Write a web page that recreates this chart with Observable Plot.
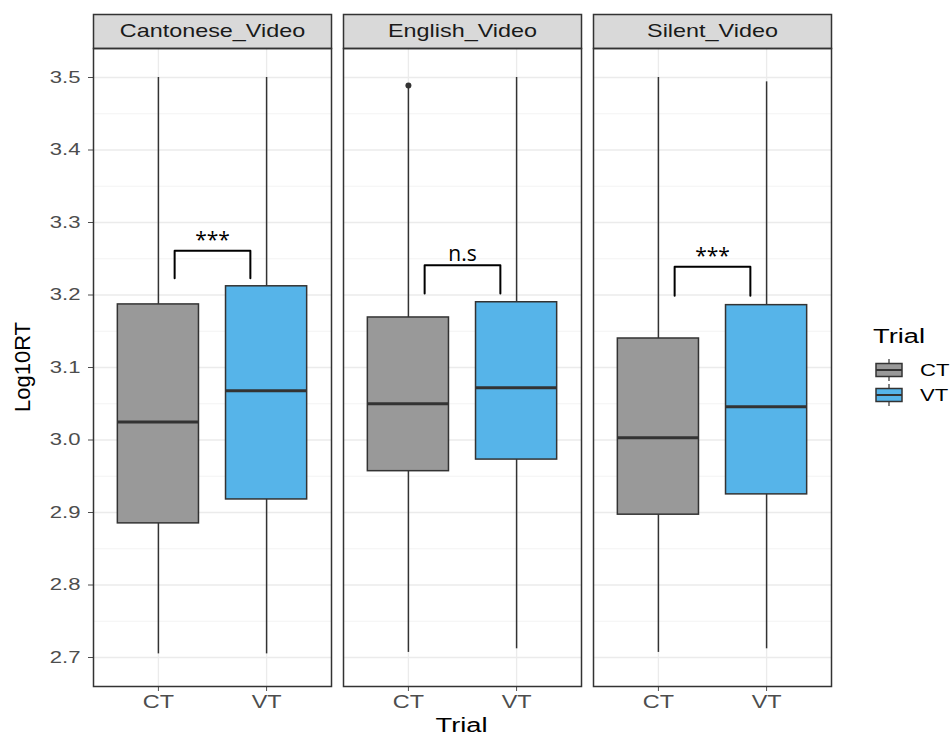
<!DOCTYPE html>
<html><head><meta charset="utf-8">
<script src="https://cdn.jsdelivr.net/npm/d3@7"></script>
<script src="https://cdn.jsdelivr.net/npm/@observablehq/plot@0.6"></script>
<style>body{margin:0;background:#fff;} #chart{width:952px;height:735px;}</style>
</head><body><div id="chart"></div>
<script>
// ---- data ----
const videos = ["Cantonese_Video", "English_Video", "Silent_Video"];
const trials = ["CT", "VT"];
const trialColors = ["#999999", "#56B4E9"];
// rows: video, columns: trial (CT, VT)
const whiskerLow = [[2.705, 2.705], [2.707, 2.712], [2.707, 2.712]];
const q1         = [[2.885, 2.918], [2.957, 2.973], [2.897, 2.925]];
const medians    = [[3.025, 3.068], [3.050, 3.072], [3.003, 3.046]];
const q3         = [[3.187, 3.212], [3.169, 3.190], [3.140, 3.186]];
const whiskerHigh= [[3.500, 3.500], [3.485, 3.500], [3.500, 3.494]];
const outlierVideo = ["English_Video"];
const outlierTrial = ["CT"];
const outlierValue = [3.489];
// significance brackets (ggsignif-style annotations)
const sigLabels = ["***", "n.s", "***"];
const sigY      = [3.261, 3.241, 3.239];
const sigTipY   = [3.223, 3.202, 3.199];
const sigXmin   = [1.15, 1.15, 1.15];
const sigXmax   = [1.85, 1.85, 1.85];
const yTicks = [2.7, 2.8, 2.9, 3.0, 3.1, 3.2, 3.3, 3.4, 3.5];
const yMinor = [2.75, 2.85, 2.95, 3.05, 3.15, 3.25, 3.35, 3.45];

// ---- tables ----
const rows = [];
videos.forEach((v, i) => trials.forEach((t, j) => rows.push({
  video: v, trial: t, pos: j + 1,
  ymin: whiskerLow[i][j], lower: q1[i][j], middle: medians[i][j],
  upper: q3[i][j], ymax: whiskerHigh[i][j]
})));
const outliers = outlierVideo.map((v, i) => ({video: v, pos: trials.indexOf(outlierTrial[i]) + 1, y: outlierValue[i]}));
const brackets = [];
const sigRows = videos.map((v, i) => ({video: v, x: (sigXmin[i] + sigXmax[i]) / 2, y: sigY[i], label: sigLabels[i]}));
videos.forEach((v, i) => {
  brackets.push({video: v, x: sigXmin[i], y: sigTipY[i]});
  brackets.push({video: v, x: sigXmin[i], y: sigY[i]});
  brackets.push({video: v, x: sigXmax[i], y: sigY[i]});
  brackets.push({video: v, x: sigXmax[i], y: sigTipY[i]});
});

// ---- layout ----
const W = 952, H = 735, mL = 92, mR = 121, mT = 48, mB = 49;
const boxHalf = 0.375;
const stripH = 34;
const dark = "#333333";
const textStretch = 1.3;

const chart = Plot.plot({
  width: W, height: H,
  marginLeft: mL, marginRight: mR, marginTop: mT, marginBottom: mB,
  style: {fontFamily: "Liberation Sans, Arial, sans-serif", fontSize: "17px", color: "#4d4d4d", background: "#ffffff"},
  fx: {domain: videos, paddingInner: 0.05, paddingOuter: 0, axis: null, label: null},
  x: {domain: [0.4, 2.6], ticks: [1, 2], tickFormat: d => trials[d - 1], tickSize: 5, tickPadding: 4, label: null},
  y: {domain: [2.66, 3.54], ticks: yTicks, tickFormat: d => d.toFixed(1), tickSize: 5, tickPadding: 8, label: null},
  color: {domain: trials, range: trialColors},
  marks: [
    Plot.ruleY(yMinor, {stroke: "#ebebeb", strokeWidth: 0.6}),
    Plot.ruleY(yTicks, {stroke: "#ebebeb", strokeWidth: 1.3}),
    Plot.ruleX([1, 2], {stroke: "#ebebeb", strokeWidth: 1.3}),
    Plot.frame({fill: "#d9d9d9", stroke: dark, strokeWidth: 1.5, insetTop: -stripH, insetBottom: H - mT - mB}),
    Plot.text(videos, {fx: d => d, text: d => d, frameAnchor: "top", lineAnchor: "middle", dy: -stripH / 2, fill: "#1a1a1a", fontSize: 18}),
    Plot.ruleX(rows, {fx: "video", x: "pos", y1: "ymin", y2: "lower", stroke: dark, strokeWidth: 1.5}),
    Plot.ruleX(rows, {fx: "video", x: "pos", y1: "upper", y2: "ymax", stroke: dark, strokeWidth: 1.5}),
    Plot.rect(rows, {fx: "video", x1: d => d.pos - boxHalf, x2: d => d.pos + boxHalf, y1: "lower", y2: "upper", fill: "trial", stroke: dark, strokeWidth: 1.5}),
    Plot.ruleY(rows, {fx: "video", x1: d => d.pos - boxHalf, x2: d => d.pos + boxHalf, y: "middle", stroke: dark, strokeWidth: 3}),
    Plot.dot(outliers, {fx: "video", x: "pos", y: "y", r: 3, fill: dark, stroke: "none"}),
    Plot.line(brackets, {fx: "video", x: "x", y: "y", z: "video", stroke: "black", strokeWidth: 2}),
    Plot.text(sigRows, {fx: "video", x: "x", y: "y", text: "label", lineAnchor: "bottom", dy: -4, fontFamily: "Open Sans, sans-serif", fontSize: 21, fill: "black"}),
    Plot.frame({stroke: dark, strokeWidth: 1.5})
  ]
});
document.getElementById("chart").appendChild(chart);

// ---- axis titles and legend ----
const svg = d3.select(chart);
svg.selectAll("g[aria-label='x-axis tick label'] text, g[aria-label='x-axis tick label']").attr("font-size", 18);
svg.append("text").attr("x", (mL + W - mR) / 2).attr("y", 732)
  .attr("text-anchor", "middle")
  .attr("font-size", 21).attr("fill", "black").text("Trial");

const color = chart.scale("color");
const lg = svg.append("g").attr("transform", "translate(873,0)");
lg.append("text").attr("x", 0).attr("y", 343).attr("text-anchor", "start")
  .attr("font-size", 21).attr("fill", "black").text("Trial");
trials.forEach((t, i) => {
  const cy = 370 + i * 25;
  const g = lg.append("g").attr("transform", `translate(0,${cy})`);
  g.append("line").attr("x1", 16).attr("x2", 16).attr("y1", -11).attr("y2", 11).attr("stroke", dark).attr("stroke-width", 1.2);
  g.append("rect").attr("x", 3).attr("y", -6.5).attr("width", 26).attr("height", 13)
    .attr("fill", color.apply(t)).attr("stroke", dark).attr("stroke-width", 1.5);
  g.append("line").attr("x1", 3).attr("x2", 29).attr("y1", 0).attr("y2", 0).attr("stroke", dark).attr("stroke-width", 2);
  g.append("text").attr("x", 47).attr("y", 0).attr("dy", "0.36em").attr("text-anchor", "start")
    .attr("font-size", 17).attr("fill", "black").text(t);
});

// widen glyphs horizontally (reference uses a wide sans face)
svg.selectAll("text").each(function () {
  const el = d3.select(this);
  if (sigLabels.includes(this.textContent)) return;
  const x = +el.attr("x") || 0, y = +el.attr("y") || 0;
  const t = el.attr("transform") || "";
  el.attr("transform", `${t} translate(${x},${y}) scale(${textStretch},1) translate(${-x},${-y})`);
});

// rotated y-axis title (added after stretching)
svg.append("text").attr("transform", `translate(22,${(mT + H - mB) / 2}) rotate(-90)`)
  .attr("text-anchor", "middle").attr("dominant-baseline", "central")
  .attr("font-size", 22).attr("fill", "black").text("Log10RT");
</script>
</body></html>
